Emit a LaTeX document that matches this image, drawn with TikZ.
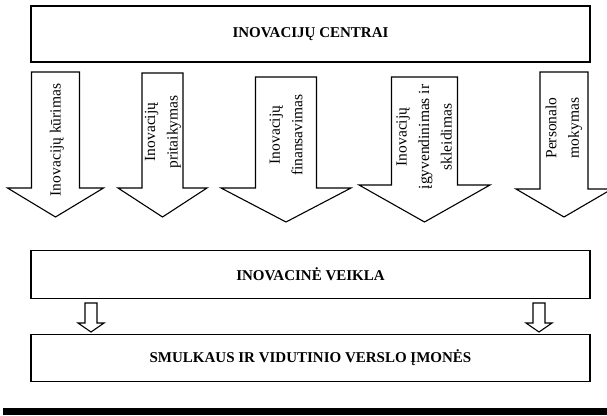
\documentclass[tikz,border=0pt]{standalone}
\usepackage{fontspec}
\setmainfont{Liberation Serif}
\usetikzlibrary{positioning}

\tikzset{
  box/.style={draw, rectangle, minimum width=559pt, inner sep=0pt, font=\fontsize{15}{18}\selectfont\bfseries},
  blockarrow/.style={draw, fill=white, line join=miter},
  arrowtext/.style={rotate=90, align=center, inner sep=0pt, font=\fontsize{15.5}{22.5}\selectfont}
}

% down block arrow: centre x, top, head y, tip y, half shaft, half head
\newcommand{\downblock}[6]{%
  \draw[blockarrow] (#1-#5,#2) -- (#1+#5,#2) -- (#1+#5,#3) -- (#1+#6,#3)
    -- (#1,#4) -- (#1-#6,#3) -- (#1-#5,#3) -- cycle;}

\begin{document}
\begin{tikzpicture}[x=1pt, y=-1pt, line width=1.1pt]
    \useasboundingbox (0,0) rectangle (607,415);

    \node[box, minimum height=56pt] (centrai) at (310.5,34) {INOVACIJŲ CENTRAI};
    \node[box, minimum height=48pt, below=187pt of centrai] (veikla) {INOVACINĖ VEIKLA};
    \node[box, minimum height=47pt, below=35pt of veikla] (imones) {SMULKAUS IR VIDUTINIO VERSLO ĮMONĖS};

    % big arrows
    \downblock{55.5}{72}{188}{217}{24}{48}
    \downblock{162.5}{73}{188}{217}{20.5}{44.5}
    \downblock{286}{77}{188}{222}{30.5}{65}
    \downblock{424.5}{77}{185}{222}{33}{65.5}
    \downblock{564}{72}{189}{217}{24}{48}

    \node[arrowtext] (kurimas) at (57,140) {Inovacijų kūrimas};
    \node[arrowtext] (pritaikymas) at (163,132) {Inovacijų\\pritaikymas};
    \node[arrowtext] (finansavimas) at (286,135) {Inovacijų\\finansavimas};
    \node[arrowtext] (skleidimas) at (424,137) {Inovacijų\\įgyvendinimas ir\\skleidimas};
    \node[arrowtext] (mokymas) at (564,128) {Personalo\\mokymas};

    % small arrows
    \downblock{91}{303}{323}{332}{6}{13}
    \downblock{539}{303}{323}{332}{6}{13}

    \fill (3,408) rectangle (607,415);
\end{tikzpicture}
\end{document}
